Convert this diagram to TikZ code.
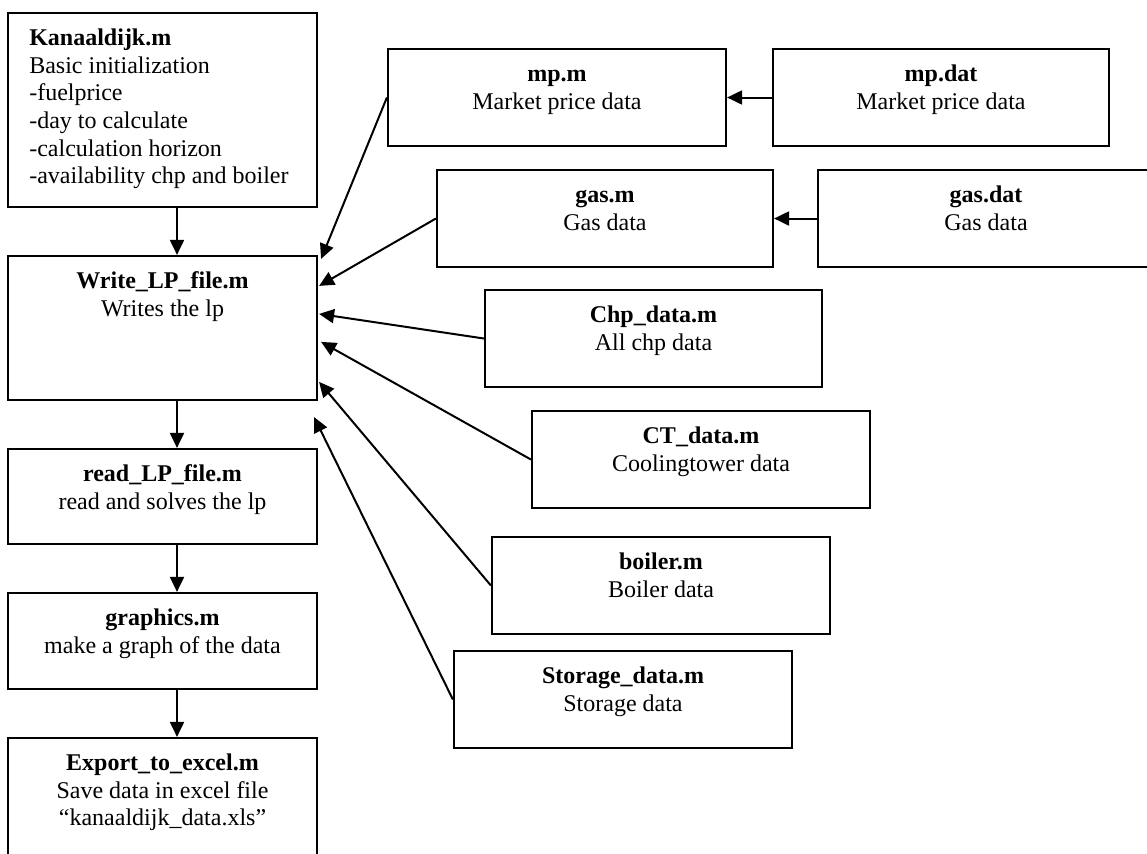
\documentclass[tikz,border=0pt]{standalone}
\usepackage{fontspec}
\setmainfont{Liberation Serif}
\usetikzlibrary{arrows.meta, positioning}

\begin{document}
\begin{tikzpicture}[
  x=0.5pt, y=-0.5pt,
  box/.style={draw, line width=1.1pt, inner sep=0pt},
  txt/.style={align=center, inner sep=0pt, font=\fontsize{12}{13.8}\selectfont},
  arr/.style={-{Triangle[length=7.5pt, width=7pt]}, line width=1pt}
]
\useasboundingbox (0,0) rectangle (1147,853);

% main chain on the left
\node[box, minimum width=154.5pt, minimum height=97pt] (kan) at (162.5,110) {};
\node[box, minimum width=154.5pt, minimum height=72pt] (write) at (162.5,328) {};
\node[box, minimum width=154.5pt, minimum height=47.5pt] (read) at (162.5,496.5) {};
\node[box, minimum width=154.5pt, minimum height=48pt] (graph) at (162.5,641) {};
\node[box, minimum width=154.5pt, minimum height=71pt] (export) at (162.5,809) {};

\node[txt, align=left, below right=7pt and 11pt of kan.north west] (kantxt)
  {\strut\textbf{Kanaaldijk.m}\\Basic initialization\\-fuelprice\\-day to calculate\\-calculation horizon\\-availability chp and boiler};
\node[txt, below=7pt of write.north] (writetxt) {\strut\textbf{Write\_LP\_file.m}\\Writes the lp};
\node[txt, below=7pt of read.north] (readtxt) {\strut\textbf{read\_LP\_file.m}\\read and solves the lp};
\node[txt, below=7pt of graph.north] (graphtxt) {\strut\textbf{graphics.m}\\make a graph of the data};
\node[txt, below=7pt of export.north] (exporttxt) {\strut\textbf{Export\_to\_excel.m}\\Save data in excel file\\“kanaaldijk\_data.xls”};

% data files on the right
\node[box, minimum width=169pt, minimum height=48.5pt] (mpm) at (557,97.5) {};
\node[box, minimum width=168pt, minimum height=48.5pt] (mpdat) at (941,97.5) {};
\node[box, minimum width=168pt, minimum height=48.5pt] (gasm) at (605,218.5) {};
\node[box, minimum width=176pt, minimum height=48.5pt] (gasdat) at (994,218.5) {};
\node[box, minimum width=168.5pt, minimum height=48.5pt] (chp) at (653.5,338.5) {};
\node[box, minimum width=169pt, minimum height=48.5pt] (ct) at (701,459.5) {};
\node[box, minimum width=169pt, minimum height=48.5pt] (boiler) at (661,585.5) {};
\node[box, minimum width=169pt, minimum height=48.5pt] (storage) at (623,699.5) {};

\node[txt, below=7pt of mpm.north] (mpmtxt) {\strut\textbf{mp.m}\\Market price data};
\node[txt, below=7pt of mpdat.north] (mpdattxt) {\strut\textbf{mp.dat}\\Market price data};
\node[txt, below=7pt of gasm.north] (gasmtxt) {\strut\textbf{gas.m}\\Gas data};
\node[txt, below=7pt of gasdat.north, xshift=-4pt] (gasdattxt) {\strut\textbf{gas.dat}\\Gas data};
\node[txt, below=7pt of chp.north] (chptxt) {\strut\textbf{Chp\_data.m}\\All chp data};
\node[txt, below=7pt of ct.north] (cttxt) {\strut\textbf{CT\_data.m}\\Coolingtower data};
\node[txt, below=7pt of boiler.north] (boilertxt) {\strut\textbf{boiler.m}\\Boiler data};
\node[txt, below=7pt of storage.north] (storagetxt) {\strut\textbf{Storage\_data.m}\\Storage data};

% connectors
\draw[arr] ([xshift=7.25pt]kan.south) -- ([xshift=7.25pt]write.north);
\draw[arr] ([xshift=7.25pt]write.south) -- ([xshift=7.25pt]read.north);
\draw[arr] ([xshift=7.25pt]read.south) -- ([xshift=7.25pt]graph.north);
\draw[arr] ([xshift=7.25pt]graph.south) -- ([xshift=7.25pt]export.north);

\draw[arr] (mpdat.west) -- (mpm.east);
\draw[arr] (gasdat.west) -- (gasm.east);

\draw[arr] (mpm.west) -- ([xshift=1.5pt, yshift=-2pt]write.north east);
\draw[arr] (gasm.west) -- ([xshift=0.5pt, yshift=-15.5pt]write.north east);
\draw[arr] (chp.west) -- ([xshift=0.5pt, yshift=-29.5pt]write.north east);
\draw[arr] (ct.west) -- ([xshift=1.5pt, yshift=-43.5pt]write.north east);
\draw[arr] (boiler.west) -- ([xshift=0.5pt, yshift=-63.5pt]write.north east);
\draw[arr] (storage.west) -- ([xshift=-2pt, yshift=-8pt]write.south east);
\end{tikzpicture}
\end{document}
